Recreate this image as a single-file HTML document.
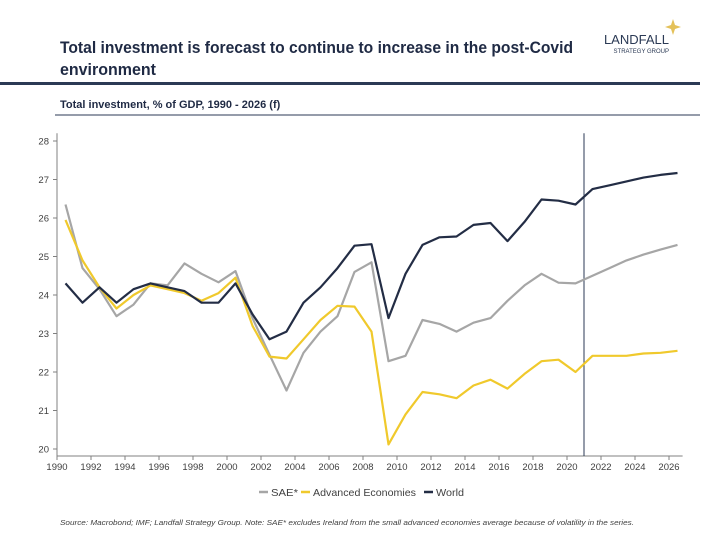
<!DOCTYPE html>
<html><head><meta charset="utf-8"><style>
body{margin:0;background:#fff;width:720px;height:540px;overflow:hidden;font-family:"Liberation Sans",sans-serif;}
</style></head><body>
<svg width="720" height="540" xmlns="http://www.w3.org/2000/svg">
<text x="60" y="53" font-size="17" font-weight="bold" fill="#1f2a44" textLength="513" lengthAdjust="spacingAndGlyphs">Total investment is forecast to continue to increase in the post-Covid</text>
<text x="60" y="75" font-size="17" font-weight="bold" fill="#1f2a44" textLength="96" lengthAdjust="spacingAndGlyphs">environment</text>
<g>
<text x="669" y="44" font-size="13" fill="#2b3a55" text-anchor="end">LANDFALL</text>
<text x="669" y="53" font-size="6" fill="#2b3a55" text-anchor="end">STRATEGY GROUP</text>
<path d="M673 19 L675 25 L681 27 L675 29 L673 35 L671 29 L665 27 L671 25 Z" fill="#e4c15a"/>
</g>
<rect x="0" y="82" width="700" height="3" fill="#2b3a55"/>
<text x="60" y="108" font-size="11" font-weight="bold" fill="#1f2a44">Total investment, % of GDP, 1990 - 2026 (f)</text>
<rect x="55" y="114.5" width="645" height="1" fill="#2b3a55"/>
<g id="plot"></g>
<g>
<line x1="259" y1="492" x2="268" y2="492" stroke="#a6a6a6" stroke-width="2.5"/>
<text x="271" y="496" font-size="10.5" fill="#404040" textLength="27" lengthAdjust="spacingAndGlyphs">SAE*</text>
<line x1="301" y1="492" x2="310" y2="492" stroke="#f0c92c" stroke-width="2.5"/>
<text x="313" y="496" font-size="10.5" fill="#404040" textLength="103" lengthAdjust="spacingAndGlyphs">Advanced Economies</text>
<line x1="424" y1="492" x2="433" y2="492" stroke="#232d45" stroke-width="2.5"/>
<text x="436" y="496" font-size="10.5" fill="#404040" textLength="28" lengthAdjust="spacingAndGlyphs">World</text>
</g>
<text x="60" y="525" font-size="7.2" font-style="italic" fill="#404040" textLength="574" lengthAdjust="spacingAndGlyphs">Source: Macrobond;  IMF; Landfall Strategy Group. Note: SAE* excludes Ireland from the small advanced economies average because of volatility in the series.</text>
</svg>
<script>
const years=[1990,1991,1992,1993,1994,1995,1996,1997,1998,1999,2000,2001,2002,2003,2004,2005,2006,2007,2008,2009,2010,2011,2012,2013,2014,2015,2016,2017,2018,2019,2020,2021,2022,2023,2024,2025,2026];
const sae=[26.35,24.7,24.15,23.45,23.75,24.3,24.25,24.82,24.55,24.33,24.62,23.4,22.45,21.52,22.5,23.05,23.45,24.6,24.85,22.28,22.42,23.35,23.25,23.05,23.28,23.4,23.85,24.25,24.55,24.32,24.3,24.5,24.7,24.9,25.05,25.18,25.3];
const advanced=[25.95,24.9,24.2,23.65,24.0,24.25,24.15,24.05,23.85,24.05,24.45,23.2,22.4,22.35,22.85,23.35,23.72,23.7,23.05,20.12,20.9,21.48,21.42,21.32,21.65,21.8,21.57,21.95,22.28,22.32,22.0,22.42,22.42,22.42,22.48,22.5,22.55];
const world=[24.3,23.8,24.2,23.8,24.15,24.3,24.2,24.1,23.8,23.8,24.3,23.5,22.85,23.05,23.8,24.2,24.7,25.28,25.32,23.4,24.55,25.3,25.5,25.52,25.82,25.87,25.4,25.9,26.48,26.45,26.35,26.75,26.85,26.95,27.05,27.12,27.17];
const yTicks=[20,21,22,23,24,25,26,27,28];
const xTicks=[1990,1992,1994,1996,1998,2000,2002,2004,2006,2008,2010,2012,2014,2016,2018,2020,2022,2024,2026];
const forecastStart=2021;
const NS="http://www.w3.org/2000/svg";
const g=document.getElementById('plot');
const X=v=>57+(v-1990)*17;
const Y=v=>449-(v-20)*38.5;
function mk(t,a){const e=document.createElementNS(NS,t);for(const k in a)e.setAttribute(k,a[k]);g.appendChild(e);return e;}
let ax=mk('line',{x1:57,y1:Y(28.2),x2:57,y2:Y(20)+7,stroke:'#808080','stroke-width':1});


let bx=mk('line',{x1:57,y1:Y(20)+7,x2:X(2026.8),y2:Y(20)+7,stroke:'#808080','stroke-width':1});


yTicks.forEach(v=>{
 mk('line',{x1:53,x2:57,y1:Y(v),y2:Y(v),stroke:'#808080'});
 const t=mk('text',{x:49,y:Y(v)+3.5,'font-size':9.5,fill:'#404040','text-anchor':'end'});
 t.textContent=v;
 
 
});
xTicks.forEach(v=>{
 mk('line',{x1:X(v),x2:X(v),y1:Y(20)+7,y2:Y(20)+11,stroke:'#808080'});
 const t=mk('text',{x:X(v),y:Y(20)+21,'font-size':9.5,fill:'#404040','text-anchor':'middle'});
 t.textContent=v;
 
 
});
let fl=mk('line',{x1:X(forecastStart),x2:X(forecastStart),y1:Y(28.2),y2:Y(20)+7,stroke:'#2b3a55','stroke-width':1});


function series(vals,color,name){
 const d=vals.map((v,i)=>(i?'L':'M')+X(years[i]+0.5).toFixed(1)+' '+Y(v).toFixed(1)).join(' ');
 const p=mk('path',{d:d,fill:'none',stroke:color,'stroke-width':2.2,'stroke-linejoin':'round'});
 
 
}
series(sae,'#a6a6a6','series-sae');
series(advanced,'#f0c92c','series-advanced-economies');
series(world,'#232d45','series-world');
</script>
</body></html>
